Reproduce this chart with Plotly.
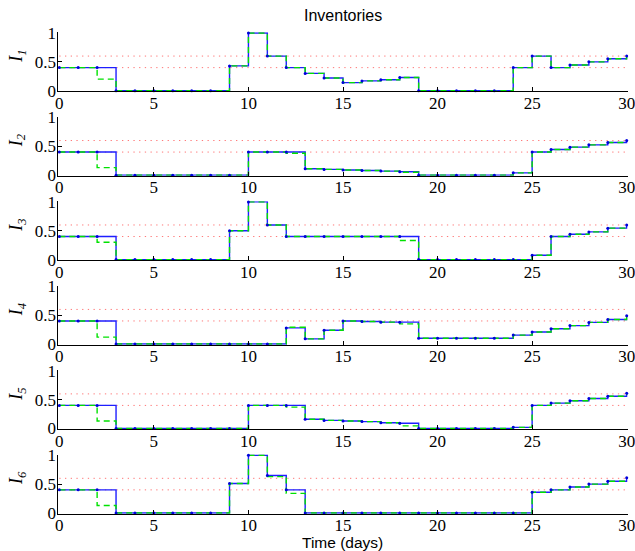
import plotly.graph_objects as go

# ---------------- data ----------------
days = list(range(31))  # stairs: value on [t, t+1), final point at t=30

I_blue = [
    [0.4, 0.4, 0.4, 0, 0, 0, 0, 0, 0, 0.43, 1.0, 0.6, 0.4, 0.3, 0.22, 0.14, 0.17, 0.19, 0.23,
     0, 0, 0, 0, 0, 0.4, 0.6, 0.4, 0.445, 0.5, 0.555, 0.6],
    [0.4, 0.4, 0.4, 0, 0, 0, 0, 0, 0, 0, 0.4, 0.4, 0.4, 0.11, 0.10, 0.09, 0.08, 0.07, 0.06,
     0, 0, 0, 0, 0, 0.04, 0.4, 0.445, 0.485, 0.525, 0.565, 0.6],
    [0.4, 0.4, 0.4, 0, 0, 0, 0, 0, 0, 0.5, 1.0, 0.6, 0.4, 0.4, 0.4, 0.4, 0.4, 0.4, 0.4,
     0, 0, 0, 0, 0, 0, 0.075, 0.4, 0.44, 0.48, 0.545, 0.6],
    [0.4, 0.4, 0.4, 0, 0, 0, 0, 0, 0, 0, 0, 0, 0.28, 0.09, 0.24, 0.4, 0.39, 0.38, 0.38,
     0.10, 0.10, 0.10, 0.10, 0.10, 0.155, 0.21, 0.265, 0.32, 0.375, 0.425, 0.49],
    [0.4, 0.4, 0.4, 0, 0, 0, 0, 0, 0, 0, 0.4, 0.4, 0.4, 0.16, 0.14, 0.13, 0.12, 0.10, 0.09,
     0, 0, 0, 0, 0, 0.02, 0.4, 0.44, 0.48, 0.52, 0.56, 0.61],
    [0.4, 0.4, 0.4, 0, 0, 0, 0, 0, 0, 0.51, 1.0, 0.65, 0.4, 0, 0, 0, 0, 0, 0,
     0, 0, 0, 0, 0, 0, 0.36, 0.40, 0.45, 0.50, 0.55, 0.61],
]

I_green = [
    [0.4, 0.4, 0.2, 0, 0, 0, 0, 0, 0, 0.43, 1.0, 0.6, 0.4, 0.3, 0.22, 0.14, 0.17, 0.19, 0.23,
     0, 0, 0, 0, 0, 0.4, 0.6, 0.4, 0.445, 0.5, 0.555, 0.6],
    [0.4, 0.4, 0.13, 0, 0, 0, 0, 0, 0, 0, 0.4, 0.4, 0.38, 0.11, 0.10, 0.09, 0.08, 0.07, 0.05,
     0, 0, 0, 0, 0, 0.04, 0.4, 0.445, 0.485, 0.525, 0.565, 0.6],
    [0.4, 0.4, 0.30, 0, 0, 0, 0, 0, 0, 0.5, 1.0, 0.6, 0.4, 0.4, 0.4, 0.4, 0.4, 0.4, 0.33,
     0, 0, 0, 0, 0, 0, 0.075, 0.4, 0.44, 0.48, 0.545, 0.6],
    [0.4, 0.4, 0.12, 0, 0, 0, 0, 0, 0, 0, 0, 0, 0.29, 0.09, 0.24, 0.4, 0.39, 0.38, 0.35,
     0.10, 0.10, 0.10, 0.10, 0.10, 0.155, 0.21, 0.265, 0.32, 0.375, 0.425, 0.49],
    [0.4, 0.4, 0.13, 0, 0, 0, 0, 0, 0, 0, 0.4, 0.4, 0.37, 0.16, 0.14, 0.13, 0.12, 0.10, 0.045,
     0, 0, 0, 0, 0, 0.02, 0.4, 0.44, 0.48, 0.52, 0.56, 0.61],
    [0.4, 0.4, 0.13, 0, 0, 0, 0, 0, 0, 0.51, 1.0, 0.63, 0.34, 0, 0, 0, 0, 0, 0,
     0, 0, 0, 0, 0, 0, 0.36, 0.40, 0.45, 0.50, 0.55, 0.61],
]

thresholds = [0.4, 0.6]
threshold_x = [0, 30]
x_ticks = [0, 5, 10, 15, 20, 25, 30]
y_ticks = [0, 0.5, 1]
y_tick_labels = ["0", "0.5", "1"]
panel_labels = ["1", "2", "3", "4", "5", "6"]
title_text = "Inventories"
xlabel_text = "Time (days)"

# ---------------- layout geometry ----------------
W, H = 635, 551
X0_PX, X30_PX = 59.3, 626.7
Y1_PX0, Y0_PX0, STEP = 33.0, 90.7, 84.45
XR = [-0.05, 30.05]
YR = [-0.012, 1.012]
xs = (X30_PX - X0_PX) / 30.0
xd = [(X0_PX + XR[0] * xs) / W, (X30_PX + (XR[1] - 30) * xs) / W]

SERIF = "Liberation Serif"
SANS = "Liberation Sans"

fig = go.Figure()
layout = dict(
    template="none",
    width=W, height=H, autosize=False,
    margin=dict(l=0, r=0, t=0, b=0, pad=0, autoexpand=False),
    paper_bgcolor="white", plot_bgcolor="white",
    showlegend=False,
)
annotations = []

for k in range(6):
    sfx = "" if k == 0 else str(k + 1)
    xa, ya = "x" + sfx, "y" + sfx
    p1 = Y1_PX0 + STEP * k
    p0 = Y0_PX0 + STEP * k
    ys = p0 - p1
    top_px = p1 - (YR[1] - 1) * ys
    bot_px = p0 - YR[0] * ys
    layout["xaxis" + sfx] = dict(
        domain=xd, range=XR, anchor=ya, automargin=False,
        showline=True, linecolor="black", linewidth=1,
        ticks="inside", ticklen=4, tickcolor="black", tickwidth=1,
        tickvals=x_ticks, ticktext=[str(v) for v in x_ticks],
        ticklabeloverflow="allow", ticklabelstandoff=-4,
        tickfont=dict(family=SERIF, size=17, color="black"),
        showgrid=False, zeroline=False,
    )
    layout["yaxis" + sfx] = dict(
        domain=[1 - bot_px / H, 1 - top_px / H], range=YR, anchor=xa, automargin=False,
        showline=True, linecolor="black", linewidth=1,
        ticks="inside", ticklen=4, tickcolor="black", tickwidth=1,
        tickvals=y_ticks, ticktext=y_tick_labels,
        ticklabeloverflow="allow", ticklabelstandoff=-2,
        tickfont=dict(family=SERIF, size=17, color="black"),
        showgrid=False, zeroline=False,
    )
    # threshold dotted lines
    for th in thresholds:
        fig.add_trace(go.Scatter(
            x=threshold_x, y=[th, th], xaxis=xa, yaxis=ya, mode="lines",
            line=dict(color="rgb(255,120,120)", width=1, dash="1.3px,4.4px"),
            hoverinfo="skip"))
    fig.add_trace(go.Scatter(
        x=days, y=I_blue[k], xaxis=xa, yaxis=ya, mode="lines",
        line=dict(color="rgb(30,30,255)", width=1.4, shape="hv")))
    fig.add_trace(go.Scatter(
        x=days, y=I_green[k], xaxis=xa, yaxis=ya, mode="lines",
        line=dict(color="rgb(0,225,0)", width=1.4, shape="hv", dash="6px,4px")))
    fig.add_trace(go.Scatter(
        x=days, y=I_blue[k], xaxis=xa, yaxis=ya, mode="markers",
        marker=dict(color="rgb(0,0,220)", size=3, symbol="circle", line=dict(width=0)),
        cliponaxis=False))
    # y label
    annotations.append(dict(
        x=17.5 / W, y=1 - ((p0 + p1) / 2 - 5.5) / H, xref="paper", yref="paper",
        text="<i>I</i><sub><i>" + panel_labels[k] + "</i></sub>",
        textangle=-90, showarrow=False, xanchor="center", yanchor="middle",
        borderpad=0,
        font=dict(family=SERIF, size=18, color="black")))

annotations.append(dict(
    x=(X0_PX + X30_PX) / 2 / W, y=1 - 15.5 / H, xref="paper", yref="paper",
    text=title_text, showarrow=False, xanchor="center", yanchor="middle",
    font=dict(family=SANS, size=16, color="black")))
annotations.append(dict(
    x=(X0_PX + X30_PX) / 2 / W, y=1 - 542 / H, xref="paper", yref="paper",
    text=xlabel_text, showarrow=False, xanchor="center", yanchor="middle",
    font=dict(family=SANS, size=15.5, color="black")))

layout["annotations"] = annotations
fig.update_layout(**layout)
fig.write_html(
    "out.html",
    config={"displayModeBar": False},
    post_script="document.body.style.margin='0';document.body.style.overflow='hidden';",
)
